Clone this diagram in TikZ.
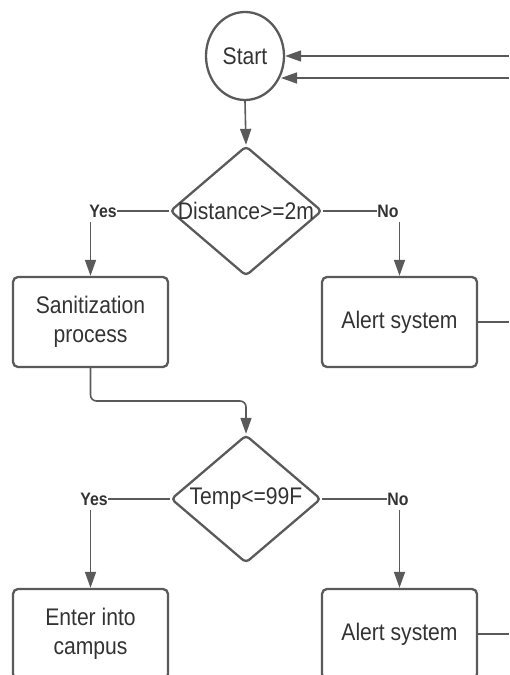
\documentclass[tikz,border=0pt]{standalone}
\usepackage{fontspec}
\setmainfont[FakeStretch=0.88]{Liberation Sans}
\usetikzlibrary{shapes.geometric,arrows.meta}
\definecolor{edge}{HTML}{5A5A5A}
\definecolor{txt}{HTML}{333333}
\begin{document}
\begin{tikzpicture}[x=1pt,y=1pt,
  shapeline/.style={draw=edge,line width=2.3pt},
  box/.style={shapeline,rectangle,rounded corners=5pt,minimum width=155pt,minimum height=90pt,inner sep=0pt,align=center,text=txt,font=\fontsize{24}{29}\selectfont},
  dec/.style={shapeline,diamond,rounded corners=4pt,inner sep=0pt,minimum width=152pt,minimum height=130pt},
  dtext/.style={text=txt,font=\fontsize{24}{26}\selectfont},
  lbl/.style={text=txt,font=\bfseries\fontsize{18}{20}\selectfont,inner sep=0.5pt},
  conn/.style={draw=edge,line width=1.6pt},
  arr/.style={conn,-{Triangle[length=16pt,width=11pt]}}
]
\useasboundingbox (0,0) rectangle (509,675);
\clip (0,0) rectangle (509,675);
% nodes
\node[shapeline,ellipse,minimum width=78pt,minimum height=88pt,inner sep=0pt,text=txt,font=\fontsize{24}{26}\selectfont] (start) at (245,619) {Start};
\node[dec] (d1) at (246,464) {};
\node[dtext] (d1t) at (246,464) {Distance>=2m};
\node[lbl] (yes1) at (103,464) {Yes};
\node[lbl] (no1) at (388,464) {No};
\node[box] (sanit) at (90.5,353) {Sanitization\\process};
\node[box] (alert1) at (399.5,353) {Alert system};
\node[dec,minimum width=150pt,minimum height=128pt] (d2) at (246,176) {};
\node[dtext] (d2t) at (246,176) {Temp<=99F};
\node[lbl] (yes2) at (94,176) {Yes};
\node[lbl] (no2) at (398,176) {No};
\node[box] (enter) at (90.5,41) {Enter into\\campus};
\node[box] (alert2) at (399.5,41) {Alert system};
% free ends
\coordinate (in1) at (509,619);
\coordinate (in2) at (509,597);
\coordinate (s2) at (281,597);
\coordinate (out1) at (509,353);
\coordinate (out2) at (509,41);
\coordinate (bendy) at (0,274);
% connectors
\draw[arr] (in1) -- (start.east);
\draw[arr] (in2) -- (s2);
\draw[arr] (start.south) -- (d1.north);
\draw[conn] (d1.west) -- (yes1.east);
\draw[conn] (d1.east) -- (no1.west);
\draw[arr] (sanit.north |- yes1.south) ++(0,-4) -- (sanit.north);
\draw[arr] (alert1.north |- no1.south) ++(0,-4) -- (alert1.north);
\draw[conn] (alert1.east) -- (out1);
\draw[arr,rounded corners=6pt] (sanit.south) -- (sanit.south |- bendy) -- (d2.north |- bendy) -- (d2.north);
\draw[conn] (d2.west) -- (yes2.east);
\draw[conn] (d2.east) -- (no2.west);
\draw[arr] (enter.north |- yes2.south) ++(0,-4) -- (enter.north);
\draw[arr] (alert2.north |- no2.south) ++(0,-4) -- (alert2.north);
\draw[conn] (alert2.east) -- (out2);
\end{tikzpicture}
\end{document}
